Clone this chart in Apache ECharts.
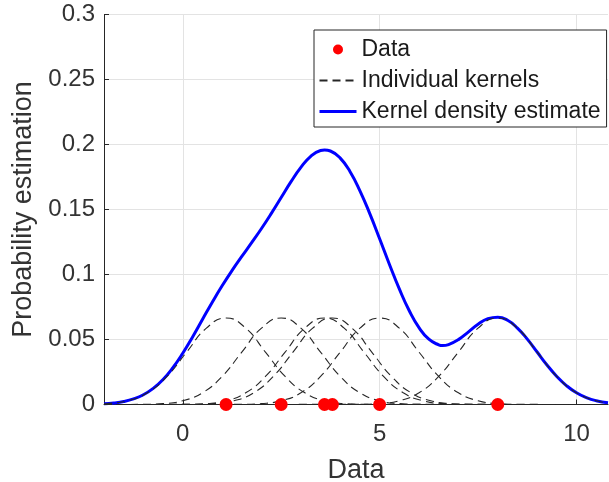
<!DOCTYPE html>
<html>
<head>
<meta charset="utf-8">
<script src="https://cdn.jsdelivr.net/npm/echarts@6/dist/echarts.min.js"></script>
<style>
  html, body { margin: 0; padding: 0; background: #fff; }
  #chart { width: 609px; height: 482px; }
</style>
</head>
<body>
<div id="chart"></div>
<script>
// sample points (x on the data axis, y = 0)
var dataX = [1.1, 2.5, 3.6, 3.8, 5.0, 8.0];

// one gaussian bump per sample, [x, y]
var kernel1 = [[-2,0.0005],[-1.9,0.0007],[-1.4,0.0029],[-0.9,0.009],[-0.4,0.0216],[0.1,0.0403],[0.6,0.0587],[1.1,0.0665],[1.6,0.0587],[2.1,0.0403],[2.6,0.0216],[3.1,0.009],[3.6,0.0029],[4.1,0.0007],[4.6,0.0001],[10.8,0]];
var kernel2 = [[-2,0],[-1,0.0001],[-0.5,0.0007],[0,0.0029],[0.5,0.009],[1,0.0216],[1.5,0.0403],[2,0.0587],[2.5,0.0665],[3,0.0587],[3.5,0.0403],[4,0.0216],[4.5,0.009],[5,0.0029],[5.5,0.0007],[6,0.0001],[10.8,0]];
var kernel3 = [[-2,0],[0.1,0.0001],[0.6,0.0007],[1.1,0.0029],[1.6,0.009],[2.1,0.0216],[2.6,0.0403],[3.1,0.0587],[3.6,0.0665],[4.1,0.0587],[4.6,0.0403],[5.1,0.0216],[5.6,0.009],[6.1,0.0029],[6.6,0.0007],[7.1,0.0001],[10.8,0]];
var kernel4 = [[-2,0],[0.3,0.0001],[0.8,0.0007],[1.3,0.0029],[1.8,0.009],[2.3,0.0216],[2.8,0.0403],[3.3,0.0587],[3.8,0.0665],[4.3,0.0587],[4.8,0.0403],[5.3,0.0216],[5.8,0.009],[6.3,0.0029],[6.8,0.0007],[7.3,0.0001],[10.8,0]];
var kernel5 = [[-2,0],[1.5,0.0001],[2,0.0007],[2.5,0.0029],[3,0.009],[3.5,0.0216],[4,0.0403],[4.5,0.0587],[5,0.0665],[5.5,0.0587],[6,0.0403],[6.5,0.0216],[7,0.009],[7.5,0.0029],[8,0.0007],[8.5,0.0001],[10.8,0]];
var kernel6 = [[-2,0],[4.5,0.0001],[5,0.0007],[5.5,0.0029],[6,0.009],[6.5,0.0216],[7,0.0403],[7.5,0.0587],[8,0.0665],[8.5,0.0587],[9,0.0403],[9.5,0.0216],[10,0.009],[10.5,0.0029],[10.8,0.0013]];

// kernel density estimate (blue curve)
var kdeX = [-2,-1.75,-1.5,-1.25,-1,-0.75,-0.5,-0.25,0,0.25,0.5,0.75,1,1.25,1.5,1.75,2,2.25,2.5,2.75,3,3.25,3.5,3.6,3.75,4,4.25,4.5,4.75,5,5.25,5.5,5.75,6,6.25,6.5,6.6,6.75,7,7.25,7.5,7.75,8,8.25,8.5,8.75,9,9.25,9.5,9.75,10,10.25,10.5,10.8];
var kdeY = [0.0006,0.0012,0.0023,0.0043,0.0075,0.0124,0.0192,0.0283,0.0394,0.052,0.0654,0.0787,0.0913,0.103,0.1139,0.1245,0.1354,0.147,0.1592,0.1714,0.1824,0.1909,0.1954,0.1958,0.195,0.1895,0.1791,0.1644,0.1468,0.1275,0.1077,0.0889,0.0723,0.0591,0.0502,0.0459,0.0453,0.0461,0.0499,0.0557,0.0617,0.066,0.0672,0.0648,0.0588,0.0503,0.0404,0.0304,0.0216,0.0144,0.009,0.0053,0.0029,0.0013];

var xTicks = [0, 5, 10];

var kernels = [kernel1, kernel2, kernel3, kernel4, kernel5, kernel6];
var FONT = 'Liberation Sans, Arial, sans-serif';

var series = [];
kernels.forEach(function(k){
    series.push({
        name: 'Individual kernels',
        type: 'line',
        data: k,
        smooth: 0.5,
        symbol: 'none',
        z: 3,
        itemStyle: { color: '#262626' },
        lineStyle: { color: '#262626', width: 1.1, type: [8, 5] }
    });
});
series.push({
    name: 'Kernel density estimate',
    type: 'line',
    data: kdeX.map(function(x, i){ return [x, kdeY[i]]; }),
    smooth: 0.5,
    symbol: 'none',
    z: 2,
    itemStyle: { color: '#0000ff' },
    lineStyle: { color: '#0000ff', width: 3 }
});
series.push({
    name: 'Data',
    type: 'scatter',
    data: dataX.map(function(x){ return [x, 0]; }),
    symbol: 'circle',
    symbolSize: 13,
    z: 5,
    itemStyle: { color: '#ff0000', opacity: 1 }
});

var chart = echarts.init(document.getElementById('chart'));
chart.setOption({
    animation: false,
    textStyle: { fontFamily: FONT },
    grid: { left: 104, top: 14.5, right: 1, bottom: 77.5, containLabel: false, outerBoundsMode: 'none' },
    legend: {
        data: [
            { name: 'Data', itemStyle: { color: '#ff0000', opacity: 1 } },
            { name: 'Individual kernels', itemStyle: { opacity: 0 } },
            { name: 'Kernel density estimate', itemStyle: { opacity: 0 }, lineStyle: { width: 3, color: '#0000ff' } }
        ],
        orient: 'vertical',
        left: 314,
        top: 30,
        padding: [6, 6, 2, 4],
        itemGap: 4,
        itemWidth: 37,
        itemHeight: 10,
        borderColor: '#262626',
        borderWidth: 1,
        backgroundColor: '#fff',
        textStyle: { fontSize: 23, color: '#1a1a1a', lineHeight: 27, fontFamily: FONT }
    },
    xAxis: {
        type: 'value',
        min: -2,
        max: 10.8,
        name: 'Data',
        nameLocation: 'middle',
        nameGap: 53,
        nameTextStyle: { fontSize: 27, color: '#333' },
        axisLine: { onZero: false, lineStyle: { color: '#262626', width: 1 } },
        axisTick: { inside: true, length: 5, customValues: xTicks, lineStyle: { color: '#262626' } },
        axisLabel: { customValues: xTicks, fontSize: 24, color: '#333', margin: 18 },
        splitLine: { show: true, lineStyle: { color: '#e3e3e3' } }
    },
    yAxis: {
        type: 'value',
        min: 0,
        max: 0.3,
        interval: 0.05,
        name: 'Probability estimation',
        nameLocation: 'middle',
        nameGap: 62,
        nameTextStyle: { fontSize: 27, color: '#333' },
        axisLine: { show: true, onZero: false, lineStyle: { color: '#262626', width: 1 } },
        axisTick: { show: true, inside: true, length: 5, lineStyle: { color: '#262626' } },
        axisLabel: { fontSize: 24, color: '#333', margin: 9 },
        splitLine: { show: true, lineStyle: { color: '#e3e3e3' } }
    },
    series: series
});
</script>
</body>
</html>
